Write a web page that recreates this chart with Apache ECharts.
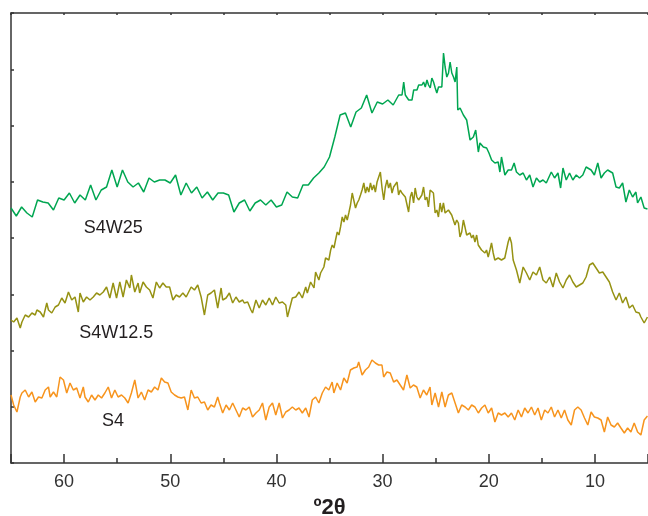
<!DOCTYPE html>
<html>
<head>
<meta charset="utf-8">
<script src="https://cdn.jsdelivr.net/npm/echarts@6/dist/echarts.min.js"></script>
<style>
  html, body { margin: 0; padding: 0; background: #fff; }
  #xrd { width: 648px; height: 516px; }
</style>
</head>
<body>
<div id="xrd"></div>
<script>
// 2θ (degrees) vs intensity (a.u.)
const s4w25 = [
  [65,255],[64.5,247],[64,256],[63.5,250],[63,246],[62.5,263],[62,261],[61.5,260],[61,253],[60.5,265],
  [60,263],[59.5,270],[59,260],[58.5,268],[58,263],[57.5,278],[57,263],[56.5,273],[56,276],[55.5,293],
  [55,276],[54.5,293],[54,281],[53.5,276],[53,280],[52.5,271],[52,285],[51.5,281],[51,283],[50.5,283],
  [50,280],[49.5,288],[49,268],[48.5,280],[48,270],[47.5,276],[47,265],[46.5,271],[46,263],[45.5,270],
  [45,270],[44.5,268],[44,251],[43.5,260],[43,263],[42.5,252],[42,260],[41.5,263],[41,258],[40.5,263],
  [40,256],[39.5,258],[39,271],[38.5,266],[38,265],[37.5,278],[37,278],[36.5,285],[36,290],[35.5,296],
  [35,306],[34.5,326],[34,348],[33.5,350],[33,336],[32.5,351],[32,355],[31.5,368],[31,350],[30.5,361],
  [30,359],[29.5,363],[29,358],[28.48,368],[28.32,370],[28.17,368],[28.01,381],[27.86,368],[27.54,363],
  [27.23,363],[27.07,373],[26.92,375],[26.76,373],[26.6,378],[26.45,380],[26.29,378],[26.14,381],
  [25.98,376],[25.82,383],[25.67,378],[25.51,375],[25.36,385],[25.2,381],[25.04,375],[24.89,370],
  [24.73,376],[24.57,375],[24.42,376],[24.26,410],[24.11,396],[23.95,386],[23.79,390],[23.64,401],
  [23.48,390],[23.32,386],[23.17,381],[23.01,396],[22.92,353],[22.7,355],[22.39,348],[22.08,343],
  [21.92,341],[21.76,323],[21.45,326],[21.23,333],[20.98,311],[20.83,320],[20.51,316],[20.2,315],
  [19.98,310],[19.73,303],[19.42,300],[19.11,301],[18.95,291],[18.8,306],[18.48,288],[18.17,293],
  [17.86,293],[17.61,300],[17.39,291],[17.08,288],[16.76,290],[16.45,283],[16.14,288],[15.83,276],
  [15.51,285],[15.2,281],[14.89,283],[14.58,280],[14.11,291],[13.8,285],[13.48,290],[13.23,275],
  [13.01,295],[12.7,283],[12.39,290],[12.08,283],[11.76,288],[11.45,285],[11.14,288],[10.83,296],
  [10.36,293],[10.05,288],[9.73,300],[9.42,285],[9.11,290],[8.8,293],[8.33,290],[8.01,276],[7.7,275],
  [7.39,280],[7.08,261],[6.76,273],[6.45,266],[6.14,271],[5.98,260],[5.67,266],[5.36,255],[5.05,254]
];

const s4w125 = [
  [65,143],[64.75,141],[64.44,145],[64.13,135],[63.97,141],[63.66,148],[63.34,146],[63.03,150],[62.72,148],
  [62.56,153],[62.25,151],[61.94,146],[61.63,160],[61.47,153],[61.16,150],[60.84,156],[60.53,158],
  [60.22,165],[59.91,160],[59.59,171],[59.28,163],[58.97,166],[58.66,151],[58.5,170],[58.19,161],
  [57.88,166],[57.56,163],[57.25,166],[56.94,170],[56.63,168],[56.31,171],[56,176],[55.69,165],
  [55.38,180],[55.06,165],[54.75,181],[54.44,166],[54.13,183],[53.81,175],[53.66,188],[53.34,171],
  [53.03,180],[52.88,170],[52.56,181],[52.25,176],[51.94,173],[51.63,165],[51.31,181],[51,175],
  [50.69,180],[50.38,176],[50.06,176],[49.75,163],[49.44,168],[49.13,166],[48.81,170],[48.5,166],
  [48.03,176],[47.72,173],[47.41,178],[47.09,166],[46.78,148],[46.47,168],[46.16,170],[45.84,173],
  [45.53,155],[45.37,165],[45.21,175],[45.06,163],[44.74,165],[44.43,170],[44.12,160],[43.81,166],
  [43.5,161],[43.18,163],[43.03,160],[42.71,161],[42.4,153],[42.25,150],[41.93,163],[41.62,155],
  [41.31,163],[41,158],[40.68,165],[40.37,158],[40.06,166],[39.74,160],[39.43,161],[39.12,158],
  [38.96,146],[38.81,148],[38.5,165],[38.18,166],[37.87,171],[37.56,165],[37.24,176],[37.09,170],
  [36.78,181],[36.46,175],[36.31,191],[36,183],[35.84,190],[35.53,196],[35.37,205],[35.06,203],
  [34.89,213],[34.74,218],[34.58,215],[34.43,223],[34.27,231],[34.11,228],[33.96,236],[33.8,246],
  [33.64,241],[33.49,248],[33.33,243],[33.18,250],[33.02,258],[32.86,270],[32.71,268],[32.55,255],
  [32.39,260],[32.24,263],[32.08,268],[31.93,273],[31.77,280],[31.61,270],[31.46,276],[31.3,271],
  [31.14,280],[30.99,273],[30.83,278],[30.68,271],[30.52,281],[30.36,283],[30.21,291],[30.05,275],
  [29.89,263],[29.74,276],[29.58,283],[29.43,275],[29.27,280],[29.11,270],[28.96,276],[28.8,275],
  [28.64,281],[28.49,268],[28.33,273],[28.18,270],[28.02,271],[27.86,266],[27.55,251],[27.39,266],
  [27.24,271],[27.08,260],[26.93,275],[26.77,266],[26.61,263],[26.3,268],[26.14,276],[25.99,263],
  [25.83,266],[25.68,256],[25.52,273],[25.36,275],[25.21,270],[25.05,250],[24.89,253],[24.74,246],
  [24.58,260],[24.43,251],[24.27,260],[24.11,250],[23.96,248],[23.8,253],[23.64,255],[23.49,248],
  [23.33,250],[23.18,238],[23.02,243],[22.86,240],[22.71,226],[22.55,231],[22.39,243],[22.24,236],
  [22.08,228],[21.92,226],[21.77,230],[21.61,225],[21.46,228],[21.3,221],[21.14,228],[20.99,218],
  [20.83,220],[20.68,213],[20.52,215],[20.36,210],[20.21,213],[20.05,206],[19.89,213],[19.74,220],
  [19.58,210],[19.43,203],[19.11,205],[18.8,203],[18.49,205],[18.17,221],[18.02,226],[17.86,220],
  [17.7,203],[17.39,193],[17.08,180],[16.76,196],[16.45,190],[16.14,183],[15.83,191],[15.51,188],
  [15.2,196],[14.89,183],[14.58,180],[14.26,186],[13.95,176],[13.64,190],[13.33,181],[13.01,175],
  [12.7,183],[12.39,188],[12.08,181],[11.76,176],[11.45,178],[11.14,180],[10.83,186],[10.51,198],
  [10.2,200],[9.89,195],[9.58,190],[9.26,191],[8.95,186],[8.64,181],[8.33,171],[8.01,163],[7.7,170],
  [7.39,160],[7.08,166],[6.76,155],[6.45,158],[6.14,151],[5.83,150],[5.67,146],[5.36,140],[5.05,146]
];

const s4 = [
  [65,68],[64.75,58],[64.44,51],[64.13,66],[63.97,70],[63.66,73],[63.34,66],[63.03,71],[62.72,61],
  [62.41,66],[62.09,65],[61.78,73],[61.47,76],[61.31,66],[61,71],[60.69,66],[60.38,86],[60.06,83],
  [59.75,70],[59.44,80],[59.13,73],[58.81,75],[58.5,65],[58.19,76],[58.03,66],[57.72,61],[57.41,68],
  [57.09,63],[56.78,68],[56.47,65],[56.16,70],[55.84,76],[55.53,65],[55.22,73],[54.91,66],[54.59,68],
  [54.28,65],[53.97,60],[53.66,70],[53.34,83],[53.03,65],[52.72,71],[52.41,63],[52.09,73],[51.78,71],
  [51.47,76],[51.16,73],[50.84,85],[50.53,81],[50.22,80],[49.91,71],[49.59,68],[49.28,66],[48.97,65],
  [48.66,66],[48.34,53],[48.03,73],[47.72,65],[47.41,66],[47.09,60],[46.78,61],[46.47,53],[46.16,58],
  [45.84,56],[45.53,66],[45.37,60],[45.06,50],[44.74,58],[44.43,53],[44.12,60],[43.81,53],[43.5,46],
  [43.18,55],[42.87,53],[42.56,56],[42.25,46],[41.93,50],[41.62,53],[41.31,60],[41,43],[40.68,56],
  [40.37,60],[40.06,48],[39.74,60],[39.43,45],[39.12,51],[38.81,53],[38.5,56],[38.18,53],[37.87,55],
  [37.56,50],[37.24,55],[36.93,46],[36.62,63],[36.31,66],[36,60],[35.68,70],[35.37,76],[35.06,73],
  [34.75,81],[34.59,70],[34.28,80],[33.96,73],[33.65,85],[33.34,80],[33.03,93],[32.71,95],[32.4,96],
  [32.25,101],[31.93,88],[31.62,93],[31.31,96],[31,103],[30.68,100],[30.37,98],[30.06,98],[29.9,86],
  [29.59,91],[29.28,90],[28.96,81],[28.65,83],[28.34,78],[28.03,73],[27.71,88],[27.4,75],[27.09,78],
  [26.78,76],[26.46,65],[26.15,73],[25.84,68],[25.53,76],[25.36,58],[25.05,70],[24.73,56],[24.42,71],
  [24.11,56],[23.8,68],[23.48,70],[23.17,60],[22.86,50],[22.55,58],[22.23,56],[21.92,53],[21.61,58],
  [21.3,56],[20.98,50],[20.67,55],[20.36,58],[20.05,50],[19.73,55],[19.42,41],[19.11,50],[18.8,48],
  [18.48,50],[18.17,46],[17.86,50],[17.55,43],[17.23,53],[16.92,46],[16.61,55],[16.3,50],[15.98,56],
  [15.67,48],[15.36,55],[15.05,43],[14.73,53],[14.42,50],[14.11,56],[13.8,46],[13.48,53],[13.17,45],
  [12.86,53],[12.55,43],[12.23,38],[11.92,53],[11.61,56],[11.3,53],[10.98,45],[10.67,38],[10.36,51],
  [10.05,46],[9.73,45],[9.42,43],[9.11,31],[8.8,46],[8.48,38],[8.17,36],[7.86,40],[7.55,35],[7.23,30],
  [6.92,35],[6.61,31],[6.3,40],[5.98,31],[5.67,28],[5.36,43],[5.05,47]
];

// sample names and where their labels sit (2θ, intensity)
const sampleNames = ['S4W25', 'S4W12.5', 'S4'];
const labelAt = [[55.36, 234.5], [55.08, 129.5], [55.4, 41.5]];
const colors = ['#00a651', '#969213', '#f7941d'];

const font = "'Liberation Sans', Arial, sans-serif";
const axisColor = '#333333';

function makeSeries(data, i) {
  return {
    name: sampleNames[i],
    type: 'line',
    data: data,
    showSymbol: false,
    lineStyle: { color: colors[i], width: 1.5 },
    markPoint: {
      symbol: 'circle',
      symbolSize: 0,
      silent: true,
      label: {
        show: true,
        position: 'inside',
        formatter: sampleNames[i],
        color: '#231f20',
        fontSize: 18,
        fontFamily: font
      },
      data: [{ coord: labelAt[i] }]
    }
  };
}

const chart = echarts.init(document.getElementById('xrd'));
chart.setOption({
  animation: false,
  backgroundColor: '#fff',
  grid: { left: 11, right: 0, top: 13, bottom: 53, outerBoundsMode: 'none' },
  xAxis: [
    {
      type: 'value',
      position: 'bottom',
      min: 5,
      max: 65,
      splitNumber: 6,
      inverse: true,
      name: 'º2θ',
      nameLocation: 'middle',
      nameGap: 34,
      nameTextStyle: { fontSize: 22, fontWeight: 'bold', color: '#231f20', fontFamily: font },
      axisLine: { lineStyle: { color: axisColor, width: 1.5 } },
      axisTick: { inside: true, length: 9, lineStyle: { color: axisColor, width: 1.5 } },
      axisLabel: {
        fontSize: 18,
        color: '#333',
        fontFamily: font,
        margin: 10,
        formatter: v => (v % 10 === 0 && v > 5 && v < 65) ? String(v) : ''
      },
      splitLine: { show: false }
    },
    {
      // short ticks every 5°
      type: 'value',
      position: 'bottom',
      min: 5,
      max: 65,
      interval: 5,
      inverse: true,
      axisLine: { show: false },
      axisTick: { inside: true, length: 5, lineStyle: { color: axisColor, width: 1.5 } },
      axisLabel: { show: false },
      splitLine: { show: false }
    },
    {
      type: 'value',
      position: 'top',
      min: 5,
      max: 65,
      interval: 5,
      inverse: true,
      axisLine: { show: true, lineStyle: { color: axisColor, width: 1.5 } },
      axisTick: { inside: true, length: 2, lineStyle: { color: axisColor, width: 1.5 } },
      axisLabel: { show: false },
      splitLine: { show: false }
    }
  ],
  yAxis: {
    type: 'value',
    min: 0,
    max: 450,
    interval: 56.25,
    axisLine: { show: true, lineStyle: { color: axisColor, width: 1.5 } },
    axisTick: { show: true, inside: true, length: 3, lineStyle: { color: axisColor, width: 1.5 } },
    axisLabel: { show: false },
    splitLine: { show: false }
  },
  series: [s4w25, s4w125, s4].map(makeSeries)
});
</script>
</body>
</html>
